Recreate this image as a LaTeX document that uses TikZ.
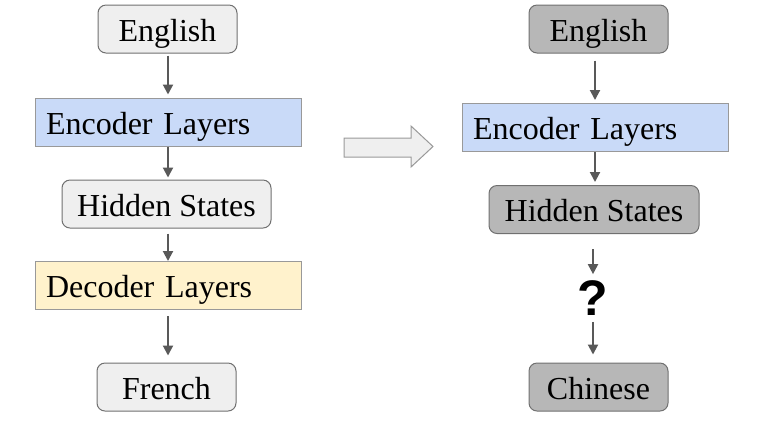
\documentclass[tikz,border=0pt]{standalone}
\usepackage{fontspec}
\setmainfont{Liberation Serif}
\newfontfamily\qfont{Liberation Sans}
\usetikzlibrary{arrows.meta}
\usetikzlibrary{positioning}

\definecolor{lightbox}{HTML}{EFEFEF}
\definecolor{darkbox}{HTML}{B7B7B7}
\definecolor{encblue}{HTML}{C9DAF8}
\definecolor{decyellow}{HTML}{FFF2CC}
\definecolor{edgegray}{HTML}{707070}
\definecolor{layergray}{HTML}{999999}
\definecolor{flowgray}{HTML}{595959}

\begin{document}
\begin{tikzpicture}[x=0.5pt,y=-0.5pt,
    lang/.style={draw=edgegray,line width=0.5pt,rounded corners=4pt,fill=lightbox,
      minimum height=24pt,inner sep=0pt,text height=12pt,text depth=0pt,
      font=\fontsize{16}{19}\selectfont},
    layer/.style={draw=layergray,line width=0.5pt,minimum height=24pt,
      text width=122pt,align=left,inner xsep=5.5pt,inner ysep=0pt,
      text height=12pt,text depth=0pt,font=\fontsize{16}{19}\selectfont},
    flow/.style={-{Triangle[length=5pt,width=5pt]},draw=flowgray,line width=1pt}]
    \useasboundingbox (0,0) rectangle (764,420);

    % original model
    \node[lang,minimum width=69.5pt] (eng) at (167.5,29) {English};
    \node[layer,fill=encblue] (enc) at (168,122) {Encoder Layers};
    \node[lang,minimum width=104.5pt] (hid) at (166.5,204) {Hidden States};
    \node[layer,fill=decyellow] (dec) at (168,285.5) {Decoder Layers};
    \node[lang,minimum width=69.5pt] (fre) at (166.5,387) {French};

    \draw[flow,shorten <=1pt,shorten >=1.5pt] (enc.north |- eng.south) -- (enc.north);
    \draw[flow,shorten >=1pt] (enc.south) -- (enc.south |- hid.north);
    \draw[flow,shorten <=2.5pt] (dec.north |- hid.south) -- (dec.north);
    \draw[flow,shorten <=3pt,shorten >=3.5pt] (dec.south) -- (dec.south |- fre.north);

    % big arrow
    \draw[draw=layergray,fill=lightbox,line width=0.5pt]
      (344,138) -- (411,138) -- (411,126) -- (433,146.5) -- (411,167) -- (411,157) -- (344,157) -- cycle;

    % new model
    \node[lang,fill=darkbox,minimum width=69.5pt] (eng2) at (598.5,29) {English};
    \node[layer,fill=encblue] (enc2) at (595,127.5) {Encoder Layers};
    \node[lang,fill=darkbox,minimum width=105pt] (hid2) at (594,209.5) {Hidden States};
    \node[inner sep=0pt,font=\qfont\bfseries\fontsize{25}{30}\selectfont] (q) at (593,298) {?};
    \node[lang,fill=darkbox,minimum width=69.5pt] (chi) at (598.5,387) {Chinese};

    \draw[flow,shorten <=3.5pt,shorten >=1.5pt] (enc2.north |- eng2.south) -- (enc2.north);
    \draw[flow,shorten >=1.5pt] (enc2.south) -- (enc2.south |- hid2.north);
    \draw[flow,shorten <=7.5pt,shorten >=3pt] (q.north |- hid2.south) -- (q.north);
    \draw[flow,shorten <=3pt,shorten >=4pt] (q.south) -- (q.south |- chi.north);
\end{tikzpicture}
\end{document}
